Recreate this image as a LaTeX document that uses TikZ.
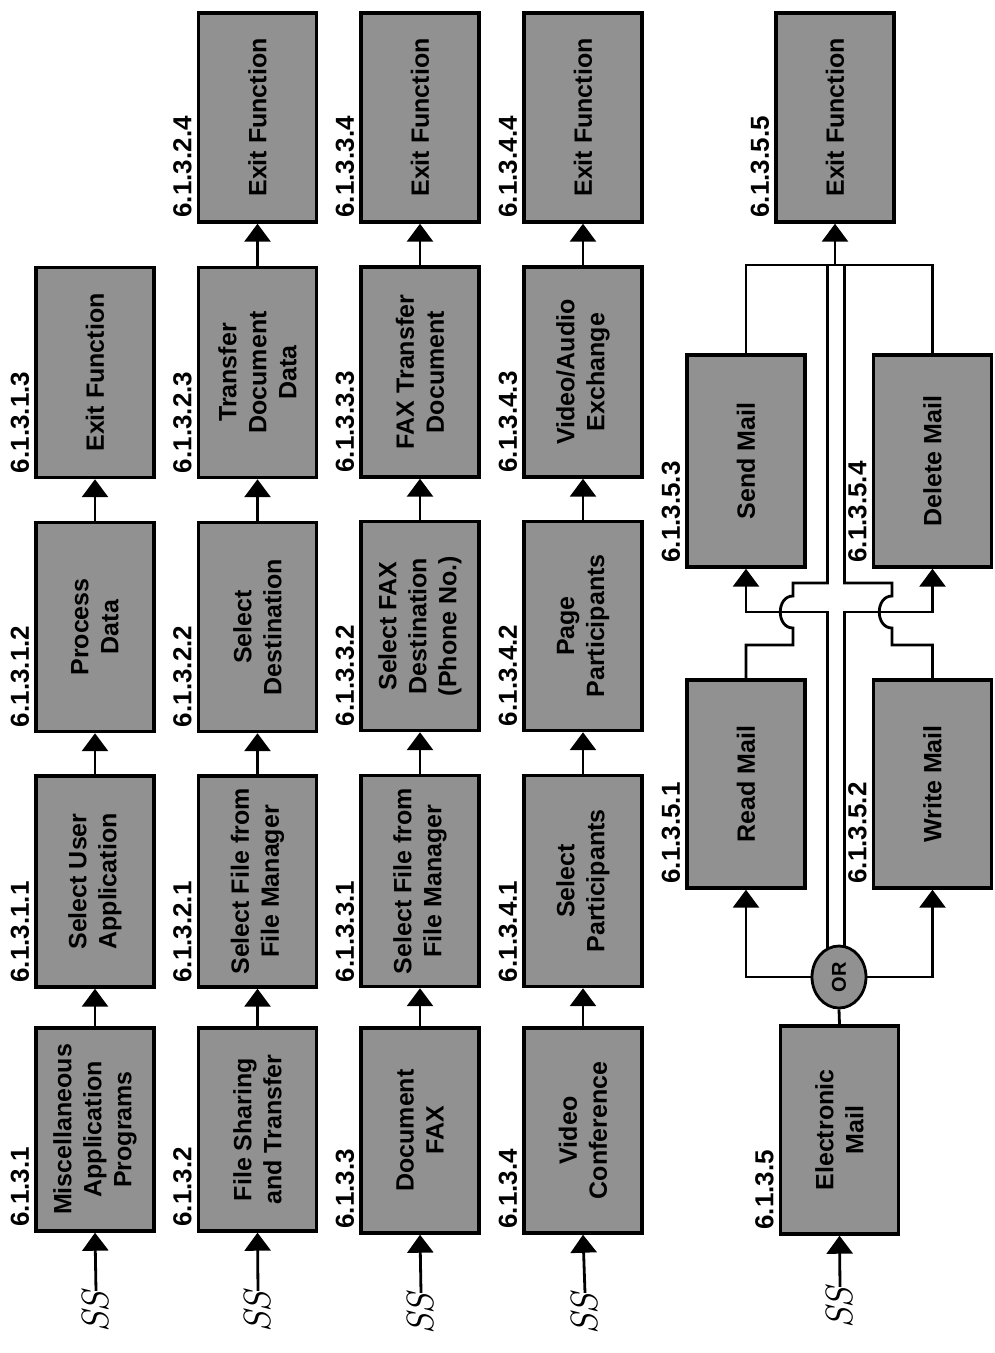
\documentclass[tikz,border=0pt]{standalone}
\usepackage{fontspec}
\newfontfamily\arial{Liberation Sans}
\usetikzlibrary{arrows.meta,calc,shapes.geometric}
\definecolor{boxgray}{RGB}{145,145,145}
\tikzset{
  box/.style={draw, line width=3.4pt, fill=boxgray, rotate=90, minimum height=118pt,
    inner sep=2pt, align=center, font=\arial\bfseries\fontsize{25}{30}\selectfont},
  lbl/.style={rotate=90, inner sep=0pt, anchor=south west,
    font=\arial\bfseries\fontsize{26}{26}\selectfont},
  ssmark/.style={rotate=90, inner sep=0pt, font=\fontsize{38}{38}\selectfont\itshape},
  conn/.style={line width=2.8pt},
  arr/.style={conn, -{Triangle[length=18pt,width=26pt]}},
  gate/.style={draw, ellipse, line width=2.8pt, fill=boxgray, rotate=90,
    minimum width=62pt, minimum height=54pt, inner sep=0pt,
    font=\arial\bfseries\fontsize{20}{20}\selectfont},
}
\newcommand\blk[6]{%
  \node[box, minimum width=#4pt] (#1) at (#2,#3) {#5};
  \node[lbl] (#1l) at ($(#1.north west)+(-5,-6)$) {#6};}
\begin{document}
\begin{tikzpicture}[x=1pt,y=-1pt]
\useasboundingbox (0,0) rectangle (995,1353);
% column 1
\blk{m1}{95}{1129.5}{203}{Miscellaneous\\Application\\Programs}{6.1.3.1}
\blk{d1}{95}{881.5}{211}{Select User\\Application}{6.1.3.1.1}
\blk{c1}{95}{627}{209}{Process\\Data}{6.1.3.1.2}
\blk{b1}{95}{372.5}{210}{Exit Function}{6.1.3.1.3}
\node[ssmark] (s1) at (96,1312) {SS};
\draw[arr] (s1.east) -- (m1.west);
\draw[arr] (m1.east) -- (d1.west);
\draw[arr] (d1.east) -- (c1.west);
\draw[arr] (c1.east) -- (b1.west);
% column 2
\blk{m2}{257.5}{1129.5}{203}{File Sharing\\and Transfer}{6.1.3.2}
\blk{d2}{257.5}{881.5}{211}{Select File from\\File Manager}{6.1.3.2.1}
\blk{c2}{257.5}{627}{209}{Select\\Destination}{6.1.3.2.2}
\blk{b2}{257.5}{372.5}{210}{Transfer\\Document\\Data}{6.1.3.2.3}
\blk{a2}{257.5}{117.5}{209}{Exit Function}{6.1.3.2.4}
\node[ssmark] (s2) at (258,1312) {SS};
\draw[arr] (s2.east) -- (m2.west);
\draw[arr] (m2.east) -- (d2.west);
\draw[arr] (d2.east) -- (c2.west);
\draw[arr] (c2.east) -- (b2.west);
\draw[arr] (b2.east) -- (a2.west);
% column 3
\blk{m3}{420}{1130.5}{205}{Document\\FAX}{6.1.3.3}
\blk{d3}{420}{881}{211}{Select File from\\File Manager}{6.1.3.3.1}
\blk{c3}{420}{626}{209}{Select FAX\\Destination\\(Phone No.)}{6.1.3.3.2}
\blk{b3}{420}{372}{210}{FAX Transfer\\Document}{6.1.3.3.3}
\blk{a3}{420}{117.5}{209}{Exit Function}{6.1.3.3.4}
\node[ssmark] (s3) at (421,1314) {SS};
\draw[arr] (s3.east) -- (m3.west);
\draw[arr] (m3.east) -- (d3.west);
\draw[arr] (d3.east) -- (c3.west);
\draw[arr] (c3.east) -- (b3.west);
\draw[arr] (b3.east) -- (a3.west);
% column 4
\blk{m4}{583}{1130.5}{205}{Video\\Conference}{6.1.3.4}
\blk{d4}{583}{881}{211}{Select\\Participants}{6.1.3.4.1}
\blk{c4}{583}{626}{209}{Page\\Participants}{6.1.3.4.2}
\blk{b4}{583}{372}{210}{Video/Audio\\Exchange}{6.1.3.4.3}
\blk{a4}{583}{117.5}{209}{Exit Function}{6.1.3.4.4}
\node[ssmark] (s4) at (585,1314) {SS};
\draw[arr] (s4.east) -- (m4.west);
\draw[arr] (m4.east) -- (d4.west);
\draw[arr] (d4.east) -- (c4.west);
\draw[arr] (c4.east) -- (b4.west);
\draw[arr] (b4.east) -- (a4.west);
% column 5: electronic mail
\blk{em}{839.5}{1130}{208}{Electronic\\Mail}{6.1.3.5}
\blk{read}{746}{784}{208}{Read Mail}{6.1.3.5.1}
\blk{write}{932.5}{784}{208}{Write Mail}{6.1.3.5.2}
\blk{send}{746}{461}{212}{Send Mail}{6.1.3.5.3}
\blk{delete}{932.5}{461}{212}{Delete Mail}{6.1.3.5.4}
\blk{exit5}{835}{117.5}{209}{Exit Function}{6.1.3.5.5}
\node[ssmark] (s5) at (840,1308) {SS};
\draw[arr] (s5.east) -- (em.west);
\coordinate (orL) at (827.5,977);
\coordinate (orR) at (844.5,977);
\coordinate (jL) at (827.5,265);
\coordinate (jR) at (844.5,265);
\coordinate (jt) at (835,265);
\draw[arr] (orL) -- (827.5,612) -| (send.west);
\draw[arr] (orR) -- (844.5,612) -| (delete.west);
\node[gate] (or) at (839,977) {OR};
\draw[conn] (em.east) -- (or.west);
\draw[arr] (or.north) -| (read.west);
\draw[arr] (or.south) -| (write.west);
\draw[conn] (read.east) |- (793,645) -- (793,628)
  .. controls (776,628) and (776,596) .. (793,596) -- (793,583) -| (jL);
\draw[conn] (write.east) |- (892,645) -- (892,628)
  .. controls (875,628) and (875,596) .. (892,596) -- (892,583) -| (jR);
\draw[conn] (send.east) |- (jt) -| (delete.east);
\draw[arr] (jt) -- (exit5.west);
\end{tikzpicture}
\end{document}
